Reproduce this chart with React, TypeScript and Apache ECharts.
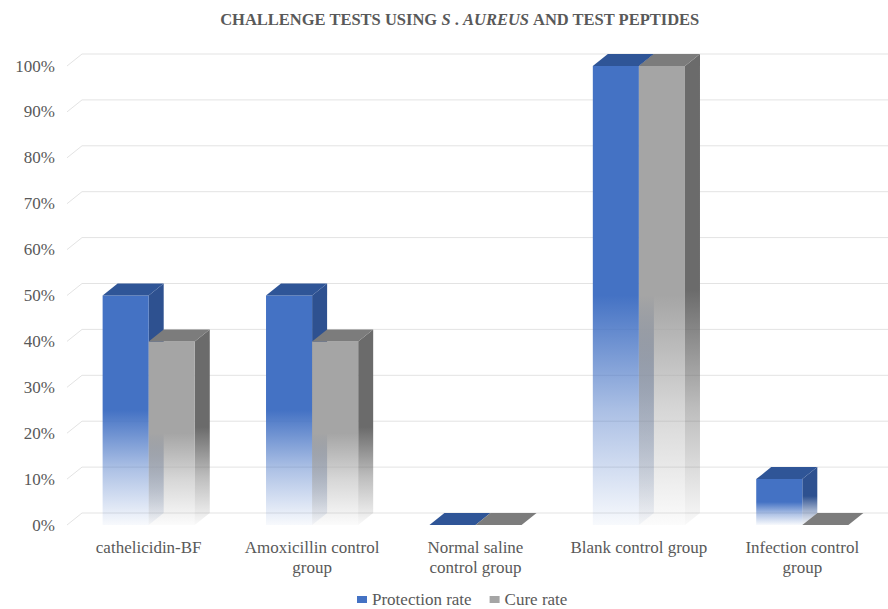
import React, { useEffect, useRef } from "react";
import * as echarts from "echarts";

const categories = [
  "cathelicidin-BF",
  "Amoxicillin control\ngroup",
  "Normal saline\ncontrol group",
  "Blank control group",
  "Infection control\ngroup",
];
const protectionRate = [50, 50, 0, 100, 10];
const cureRate = [40, 40, 0, 100, 0];
const yTicks = [0, 10, 20, 30, 40, 50, 60, 70, 80, 90, 100];

const DX = 15;
const DY = 12;
const FONT = "Liberation Serif";
const TXT = "#595959";

function rgba(hex: string, a: number) {
  const n = parseInt(hex.slice(1), 16);
  return `rgba(${(n >> 16) & 255},${(n >> 8) & 255},${n & 255},${a})`;
}

function fade(hex: string) {
  return new echarts.graphic.LinearGradient(0, 0, 0, 1, [
    { offset: 0, color: rgba(hex, 1) },
    { offset: 0.5, color: rgba(hex, 1) },
    { offset: 0.75, color: rgba(hex, 0.45) },
    { offset: 1, color: rgba(hex, 0.04) },
  ]);
}

function makeBarRender(side: "left" | "right", front: string, sideC: string, topC: string) {
  return (params: any, api: any) => {
    const cat = api.value(0);
    const val = api.value(1);
    const base = api.coord([cat, 0]);
    const top = api.coord([cat, val]);
    const band = api.size([1, 0])[0];
    const w = band * 0.282;
    const cx = base[0];
    const x0 = side === "left" ? cx - w : cx;
    const x1 = x0 + w;
    const yb = base[1];
    const yt = top[1];
    const children: any[] = [];
    if (yb - yt > 0.5) {
      children.push({
        type: "polygon",
        shape: { points: [[x1, yt], [x1 + DX, yt - DY], [x1 + DX, yb - DY], [x1, yb]] },
        style: { fill: fade(sideC) },
      });
      children.push({
        type: "polygon",
        shape: { points: [[x0, yt], [x1, yt], [x1, yb], [x0, yb]] },
        style: { fill: fade(front) },
      });
    }
    children.push({
      type: "polygon",
      shape: { points: [[x0, yt], [x1, yt], [x1 + DX, yt - DY], [x0 + DX, yt - DY]] },
      style: { fill: topC },
    });
    return { type: "group", children };
  };
}

export default function App() {
  const ref = useRef<HTMLDivElement>(null);
  useEffect(() => {
    const chart = echarts.init(ref.current!, null, { renderer: "svg" });
    chart.setOption({
      animation: false,
      backgroundColor: "#ffffff",
      textStyle: { fontFamily: FONT, color: TXT },
      graphic: [
        {
          type: "text",
          x: 460,
          y: 19,
          style: {
            text: "{b|CHALLENGE TESTS USING }{bi|S}{b| . }{bi|AUREUS}{b| AND TEST PEPTIDES}",
            align: "center",
            verticalAlign: "middle",
            rich: {
              b: { fontFamily: FONT, fontWeight: "bold", fontSize: 16.5, fill: TXT },
              bi: { fontFamily: FONT, fontWeight: "bold", fontStyle: "italic", fontSize: 16.5, fill: TXT },
            },
          },
        },
      ],
      legend: {
        data: ["Protection rate", "Cure rate"],
        left: 357,
        top: 591,
        padding: 0,
        icon: "rect",
        itemWidth: 10,
        itemHeight: 7,
        itemGap: 18,
        textStyle: { fontFamily: FONT, fontSize: 17, color: TXT, lineHeight: 16 },
      },
      grid: { left: 67, right: 4, top: 66, bottom: 84, containLabel: false },
      xAxis: {
        type: "category",
        data: categories,
        axisLine: { show: false },
        axisTick: { show: false },
        axisLabel: {
          fontFamily: FONT,
          fontSize: 17,
          color: TXT,
          lineHeight: 20,
          margin: 12,
          interval: 0,
        },
      },
      yAxis: {
        type: "value",
        min: 0,
        max: 100,
        interval: 10,
        axisLine: { show: false },
        axisTick: { show: false },
        splitLine: { show: false },
        axisLabel: {
          fontFamily: FONT,
          fontSize: 17,
          color: TXT,
          margin: 12,
          formatter: (v: number) => `${v}%`,
        },
      },
      series: [
        {
          type: "custom",
          name: "grid",
          silent: true,
          z: 1,
          data: yTicks.map((v) => [0, v]),
          encode: { x: 0, y: 1 },
          renderItem: (params: any, api: any) => {
            const y = api.coord([0, api.value(1)])[1];
            const cs = params.coordSys;
            return {
              type: "polyline",
              shape: { points: [[cs.x, y], [cs.x + DX, y - DY], [cs.x + cs.width + 40, y - DY]] },
              style: { stroke: "#e3e3e3", lineWidth: 1, fill: "none" },
            };
          },
        },
        {
          type: "custom",
          name: "Protection rate",
          z: 2,
          itemStyle: { color: "#4472C4" },
          data: protectionRate.map((v, i) => [i, v]),
          encode: { x: 0, y: 1 },
          renderItem: makeBarRender("left", "#4472C4", "#2E5190", "#2F5597"),
        },
        {
          type: "custom",
          name: "Cure rate",
          z: 3,
          itemStyle: { color: "#A5A5A5" },
          data: cureRate.map((v, i) => [i, v]),
          encode: { x: 0, y: 1 },
          renderItem: makeBarRender("right", "#A5A5A5", "#6B6B6B", "#7C7C7C"),
        },
      ],
    });
    return () => chart.dispose();
  }, []);
  return (
    <div
      ref={ref}
      style={{ position: "fixed", left: 0, top: 0, width: 888, height: 609, background: "#fff" }}
    />
  );
}
